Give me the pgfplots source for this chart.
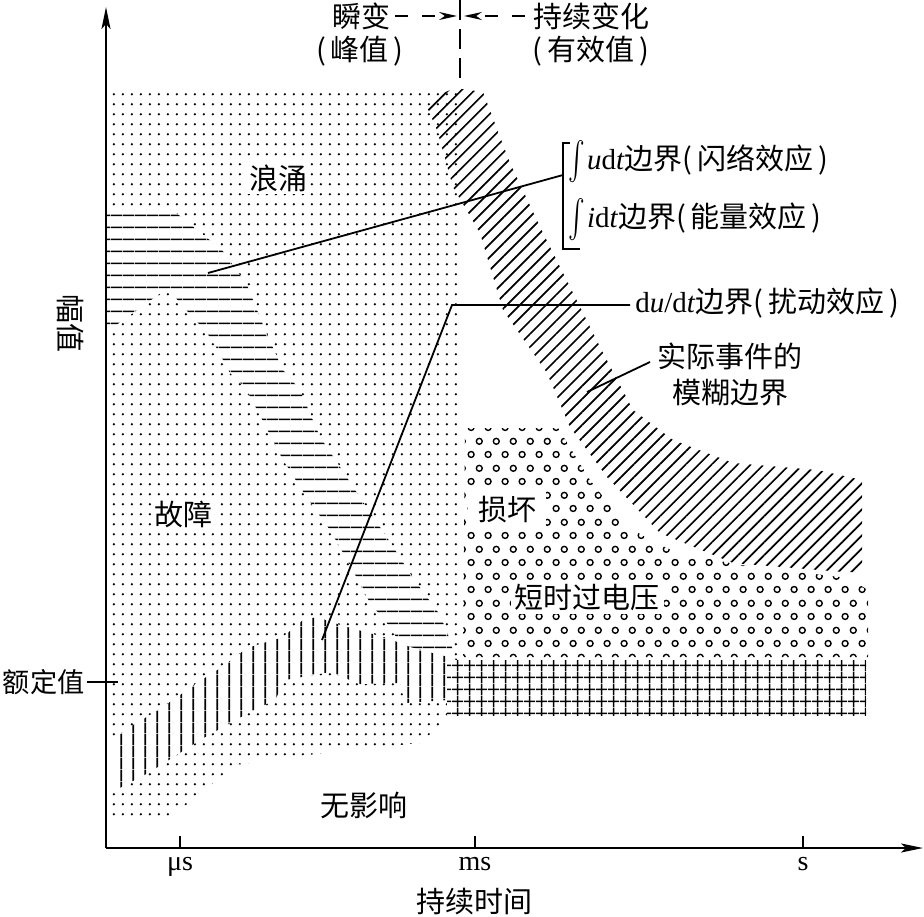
\documentclass[border=0pt]{standalone}
\usepackage{fontspec}
\setmainfont{Liberation Serif}
\newfontfamily\cjk{Noto Sans CJK SC}
\usepackage{graphicx}
\usepackage{pgfplots}
\pgfplotsset{compat=1.18}
\usetikzlibrary{patterns,patterns.meta,arrows.meta}

\tikzdeclarepattern{
  name=mydots, type=uncolored,
  bottom left={(0pt,0pt)}, top right={(4.25pt,5pt)},
  tile size={(4.25pt,5pt)},
  code={\fill (1.5pt,1.5pt) circle (0.68pt);}
}
\tikzdeclarepattern{
  name=rings, type=uncolored,
  bottom left={(0pt,0pt)}, top right={(8.35pt,13.3pt)},
  tile size={(8.35pt,13.3pt)},
  code={\draw[line width=0.7pt] (2.1pt,3.3pt) circle (1.5pt);
        \draw[line width=0.7pt] (6.25pt,9.95pt) circle (1.5pt);}
}
\tikzdeclarepattern{
  name=mygrid, type=uncolored,
  bottom left={(0pt,0pt)}, top right={(5.8pt,5.8pt)},
  tile size={(5.8pt,5.8pt)},
  code={\draw[line width=0.85pt] (0pt,2.9pt) -- (5.8pt,2.9pt);
        \draw[line width=0.85pt] (2.9pt,0pt) -- (2.9pt,5.8pt);}
}
\newcommand\FC{\fontsize{14.5}{18}\selectfont\cjk}
\newcommand\LT{\fontsize{14.5}{18}\selectfont}
\newcommand\bigint{\raisebox{-0.45ex}{\scalebox{1.25}[1.9]{$\int$}}}

\begin{document}
\begin{tikzpicture}
\begin{axis}[
  x=0.5pt, y=0.5pt,
  xmin=106, xmax=923, ymin=68, ymax=909,
  axis lines=left,
  axis line style={line width=1.1pt, -{Stealth[length=11pt,width=4.5pt,inset=2.5pt]}},
  axis on top,
  clip=false,
  xtick={180,475,803}, xticklabels={μs,ms,s},
  ytick=\empty,
  tick align=inside, major tick length=6pt,
  tick style={line width=0.9pt, black},
  xticklabel style={font=\fontsize{14}{16}\selectfont, yshift=-1pt},
]
% dotted region
\addplot[draw=none, pattern=mydots] coordinates {
 (106,823) (463,823) (463,216) (448,198) (420,173) (330,164) (235,151) (170,98) (106,96)} -- cycle;
% horizontal lines band
\addplot[draw=none, fill=white] coordinates {
 (106,704) (175,704) (222,666) (247,631) (265,586) (283,546) (300,526) (320,479) (342,446)
 (365,411) (390,374) (413,338) (440,301) (450,276) (456,254) (410,256) (390,289) (370,313)
 (350,351) (330,386) (305,421) (282,458) (265,491) (245,529) (230,543) (215,571) (205,586)
 (195,596) (175,619) (165,626) (155,619) (140,608) (120,594) (106,581)} -- cycle;
\addplot[draw=none, pattern={Lines[angle=0,distance=5.85pt,line width=0.8pt]}] coordinates {
 (106,704) (175,704) (222,666) (247,631) (265,586) (283,546) (300,526) (320,479) (342,446)
 (365,411) (390,374) (413,338) (440,301) (450,276) (456,254) (410,256) (390,289) (370,313)
 (350,351) (330,386) (305,421) (282,458) (265,491) (245,529) (230,543) (215,571) (205,586)
 (195,596) (175,619) (165,626) (155,619) (140,608) (120,594) (106,581)} -- cycle;
% vertical lines band
\addplot[draw=none, fill=white] coordinates {
 (112,176) (128,188) (150,201) (173,216) (197,233) (222,249) (247,268) (283,279) (303,296)
 (317,299) (340,291) (387,278) (410,269) (440,261) (462,256)
 (462,226) (448,216) (405,213) (400,233) (360,232) (330,244) (285,236) (275,216) (250,204)
 (200,176) (150,144) (112,124)} -- cycle;
\addplot[draw=none, pattern={Lines[angle=90,distance=5.85pt,line width=0.8pt]}] coordinates {
 (112,176) (128,188) (150,201) (173,216) (197,233) (222,249) (247,268) (283,279) (303,296)
 (317,299) (340,291) (387,278) (410,269) (440,261) (462,256)
 (462,226) (448,216) (405,213) (400,233) (360,232) (330,244) (285,236) (275,216) (250,204)
 (200,176) (150,144) (112,124)} -- cycle;
% diagonal band
\addplot[draw=none, pattern={Lines[angle=45,distance=4.6pt,line width=0.85pt]}] coordinates {
 (427,816) (455,828) (483,824) (510,753) (543,683) (573,623) (600,569) (633,506) (673,476)
 (733,453) (817,446) (862,436) (862,344) (843,344) (733,353) (660,383) (607,439) (570,489)
 (547,543) (503,606) (480,683) (453,729) (437,786) (427,809)} -- cycle;
% rings region
\addplot[draw=none, pattern=rings] coordinates {
 (465,488) (558,488) (590,436) (625,391) (650,376) (675,364) (740,351) (848,338) (868,326)
 (868,259) (463,259)} -- cycle;
% grid region
\addplot[draw=none, fill=white] coordinates {(447,256) (866,256) (866,201) (447,201)} -- cycle;
\addplot[draw=none, pattern=mygrid] coordinates {
 (447,256) (866,256) (866,201) (447,201)} -- cycle;
% leader lines
\addplot[line width=0.9pt] coordinates {(208,643) (563,741)};
\addplot[line width=0.9pt] coordinates {(570,773) (563,773) (563,667) (580,667)};
\addplot[line width=0.9pt] coordinates {(322,276) (452,611) (630,611)};
\addplot[line width=0.9pt] coordinates {(650,554) (587,524)};
% y tick for rated value
\addplot[line width=0.9pt] coordinates {(87,234) (118,234)};
% transient / steady divider
\addplot[line width=1pt, dash pattern=on 10pt off 4.5pt] coordinates {(460,916) (460,836)};
\addplot[line width=0.9pt, dash pattern=on 6.5pt off 7pt, -{Stealth[length=9pt,width=4pt]}] coordinates {(395,900) (457,900)};
\addplot[line width=0.9pt, dash pattern=on 6.5pt off 7pt, -{Stealth[length=9pt,width=4pt]}] coordinates {(525,900) (464,900)};
% texts
\node[font=\FC] at (axis cs:361,900) {瞬变};
\node[font=\FC] at (axis cs:360,865) {(\,峰值\,)};
\node[font=\FC] at (axis cs:591,900) {持续变化};
\node[font=\FC] at (axis cs:591,865) {(\,有效值\,)};
\node[font=\FC, fill=white, inner sep=1pt] at (axis cs:278,738) {浪涌};
\node[font=\FC, fill=white, inner sep=1pt] at (axis cs:183,402) {故障};
\node[font=\FC] at (axis cs:364,111) {无影响};
\node[font=\FC, fill=white, inner xsep=5pt, inner ysep=4pt] at (axis cs:507,406) {损坏};
\node[font=\FC, fill=white, inner sep=2pt] at (axis cs:587,319) {短时过电压};
\node[font=\LT, anchor=west, inner sep=0pt] at (axis cs:568,754) {\bigint\kern1pt\textit{u}d\textit{t}{\cjk 边界(\,闪络效应\,)}};
\node[font=\LT, anchor=west, inner sep=0pt] at (axis cs:568,696) {\bigint\kern1pt\textit{i}d\textit{t}{\cjk 边界(\,能量效应\,)}};
\node[font=\LT, anchor=west, inner sep=0pt] at (axis cs:635,613) {d\textit{u}/d\textit{t}{\cjk 边界(\,扰动效应\,)}};
\node[font=\FC, align=center] at (axis cs:730,541) {实际事件的\\模糊边界};
\node[font=\FC] at (axis cs:474,15) {持续时间};
\node[font=\FC, rotate=-90] at (axis cs:71,592) {幅值};
\node[font=\fontsize{13.6}{16}\selectfont\cjk, anchor=east, inner sep=0pt] at (axis cs:85,234) {额定值};
\coordinate (bbBL) at (axis cs:0,0);
\coordinate (bbTR) at (axis cs:924,916);
\end{axis}
\pgfresetboundingbox
\path (bbBL) rectangle (bbTR);
\end{tikzpicture}
\end{document}
